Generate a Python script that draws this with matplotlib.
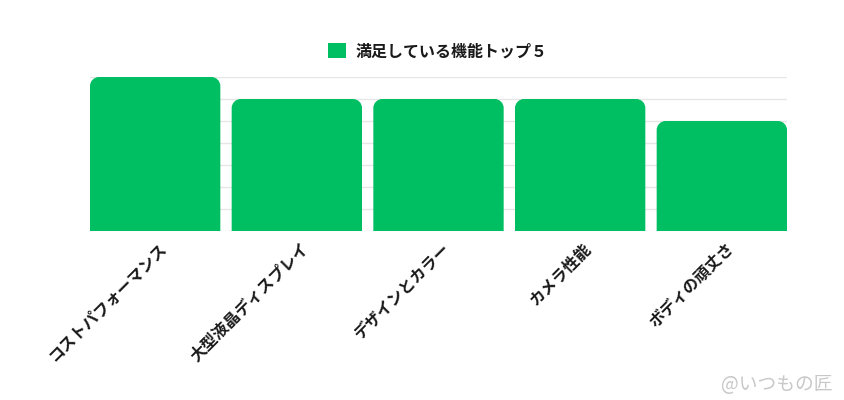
"""Bar chart: top 5 satisfied features (rounded-top bars)."""

import matplotlib

matplotlib.use("Agg")
import matplotlib.pyplot as plt
import matplotlib.transforms as mtransforms
from matplotlib.patches import PathPatch, Patch
from matplotlib.path import Path

plt.rcParams["font.family"] = ["Noto Sans CJK JP", "DejaVu Sans"]

CATEGORIES = ["コストパフォーマンス", "大型液晶ディスプレイ", "デザインとカラー", "カメラ性能", "ボディの頑丈さ"]
VALUES = [7, 6, 6, 6, 5]
SERIES_LABEL = "満足している機能トップ５"
WATERMARK = "@いつもの匠"

GREEN = "#00BF63"
TEXT = "#1a1a1a"
GRID = "#e6e6e6"
BAR_WIDTH = 0.92
RADIUS_PX = 9


def rounded_top(ax, x0, width, height, r_px):
    """Return a path for a bar with rounded top corners (radius in pixels)."""
    bbox = ax.get_window_extent()
    x_lo, x_hi = ax.get_xlim()
    y_lo, y_hi = ax.get_ylim()
    rx = r_px * (x_hi - x_lo) / bbox.width
    ry = r_px * (y_hi - y_lo) / bbox.height
    x1 = x0 + width
    k = 0.5523
    verts = [
        (x0, 0),
        (x0, height - ry),
        (x0, height - ry + k * ry), (x0 + rx - k * rx, height), (x0 + rx, height),
        (x1 - rx, height),
        (x1 - rx + k * rx, height), (x1, height - ry + k * ry), (x1, height - ry),
        (x1, 0),
        (x0, 0),
    ]
    codes = [
        Path.MOVETO,
        Path.LINETO,
        Path.CURVE4, Path.CURVE4, Path.CURVE4,
        Path.LINETO,
        Path.CURVE4, Path.CURVE4, Path.CURVE4,
        Path.LINETO,
        Path.CLOSEPOLY,
    ]
    return Path(verts, codes)


def main() -> None:
    fig = plt.figure(figsize=(8.44, 4.0), dpi=100)
    ax = fig.add_axes([90 / 844, 1 - 231 / 400, (787 - 90) / 844, (231 - 77) / 400])

    n = len(CATEGORIES)
    ax.set_xlim(-BAR_WIDTH / 2, n - 1 + BAR_WIDTH / 2)
    ax.set_ylim(0, max(VALUES))

    bars = ax.bar(range(n), VALUES, width=BAR_WIDTH, color=GREEN)
    for rect in bars:
        rect.set_visible(False)
        path = rounded_top(ax, rect.get_x(), rect.get_width(), rect.get_height(), RADIUS_PX)
        ax.add_patch(PathPatch(path, facecolor=GREEN, edgecolor="none", zorder=3))

    ax.set_yticks(range(0, max(VALUES) + 1))
    ax.yaxis.grid(True, color=GRID, linewidth=1.0, zorder=0)
    ax.set_axisbelow(True)
    ax.tick_params(axis="y", left=False, labelleft=False)
    ax.tick_params(axis="x", length=0, pad=4)
    for spine in ax.spines.values():
        spine.set_visible(False)

    ax.set_xticks(range(n))
    labels = ax.set_xticklabels(
        CATEGORIES,
        rotation=45,
        ha="right",
        va="center",
        rotation_mode="anchor",
        fontsize=11.5,
        fontweight="bold",
        color=TEXT,
    )
    shift = mtransforms.ScaledTranslation(9 / 100, -9 / 100, fig.dpi_scale_trans)
    for lab in labels:
        lab.set_transform(lab.get_transform() + shift)

    handle = Patch(facecolor=GREEN, edgecolor="none")
    fig.legend(
        [handle],
        [SERIES_LABEL],
        loc="center",
        bbox_to_anchor=(438 / 844, 1 - 51 / 400),
        frameon=False,
        handlelength=1.1,
        handleheight=1.1,
        handletextpad=0.6,
        prop={"weight": "bold", "size": 11.5},
        labelcolor=TEXT,
    )

    fig.text(833 / 844, 1 - 385 / 400, WATERMARK, ha="right", va="center",
             fontsize=13.5, color="#c8c8c8")

    fig.savefig("out.png", dpi=100, facecolor="white")


if __name__ == "__main__":
    main()
